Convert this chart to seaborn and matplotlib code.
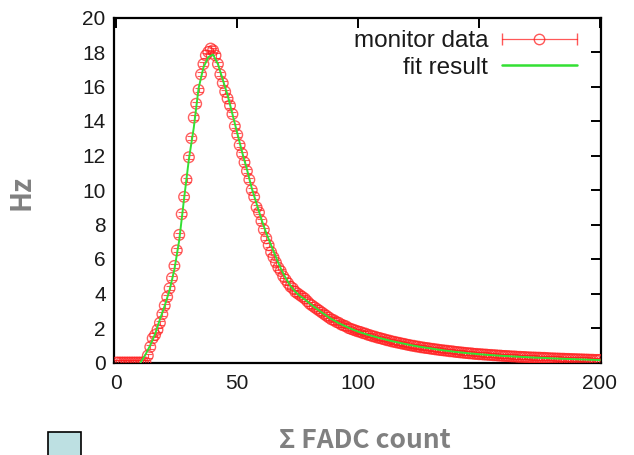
import numpy as np
import pandas as pd
import matplotlib
matplotlib.use("Agg")
import matplotlib.pyplot as plt
import seaborn as sns
from matplotlib.lines import Line2D
from matplotlib.legend_handler import HandlerLine2D, HandlerTuple
from matplotlib.patches import Rectangle

# ---- data ----
x_data = list(range(0, 201))
y_data = [
    0, 0, 0, 0, 0, 0, 0, 0, 0, 0,                                  # 0-9
    0, 0, 0, 0.4, 0.9, 1.4, 1.6, 1.9, 2.3, 2.8,                    # 10-19
    3.3, 3.8, 4.3, 4.9, 5.6, 6.5, 7.4, 8.6, 9.6, 10.6,             # 20-29
    11.9, 13.0, 14.2, 15.0, 15.8, 16.7, 17.3, 17.8, 18.0, 18.2,    # 30-39
    18.1, 17.8, 17.3, 16.7, 16.2, 15.7, 15.3, 14.9, 14.4, 13.7,    # 40-49
    13.2, 12.6, 12.1, 11.6, 11.1, 10.6, 10.0, 9.6, 9.0, 8.7,       # 50-59
    8.2, 7.7, 7.2, 6.8, 6.4, 6.1, 5.8, 5.5, 5.3, 5.0,              # 60-69
    4.8, 4.6, 4.4, 4.3, 4.1, 4.0, 3.9, 3.8, 3.7, 3.55,             # 70-79
    3.4, 3.3, 3.2, 3.1, 3.0, 2.9, 2.8, 2.7, 2.6, 2.5,              # 80-89
    2.45, 2.35, 2.3, 2.2, 2.15, 2.1, 2.0, 1.95, 1.9, 1.85,         # 90-99
    1.80, 1.77, 1.70, 1.68, 1.61, 1.58, 1.52, 1.50, 1.44, 1.42,    # 100-109
    1.37, 1.34, 1.29, 1.27, 1.22, 1.20, 1.16, 1.14, 1.10, 1.08,    # 110-119
    1.04, 1.02, 0.98, 0.97, 0.93, 0.92, 0.88, 0.87, 0.84, 0.83,    # 120-129
    0.80, 0.79, 0.76, 0.75, 0.72, 0.71, 0.69, 0.68, 0.65, 0.65,    # 130-139
    0.62, 0.61, 0.59, 0.58, 0.56, 0.55, 0.53, 0.53, 0.50, 0.50,    # 140-149
    0.48, 0.48, 0.46, 0.46, 0.44, 0.44, 0.42, 0.42, 0.40, 0.40,    # 150-159
    0.38, 0.38, 0.37, 0.36, 0.35, 0.35, 0.33, 0.33, 0.32, 0.32,    # 160-169
    0.30, 0.30, 0.29, 0.29, 0.28, 0.28, 0.27, 0.27, 0.26, 0.25,    # 170-179
    0.24, 0.24, 0.23, 0.23, 0.22, 0.22, 0.21, 0.21, 0.20, 0.20,    # 180-189
    0.19, 0.19, 0.18, 0.18, 0.17, 0.17, 0.16, 0.16, 0.15, 0.15,    # 190-199
    0.15,                                                          # 200
]
y_err = [0.12] * len(x_data)

x_fit = list(range(10, 201, 2))
y_fit = [
    0.0, 0.45, 1.0, 1.65, 2.5, 3.3, 4.2, 5.4, 7.1, 9.5,            # 10-28
    11.8, 13.6, 15.9, 17.1, 17.7, 17.85, 17.3, 16.4, 15.5, 14.4,   # 30-48
    13.3, 12.2, 11.2, 10.1, 9.2, 8.3, 7.5, 6.8, 6.1, 5.45,         # 50-68
    4.9, 4.45, 4.1, 3.85, 3.65, 3.42, 3.2, 3.0, 2.8, 2.6,          # 70-88
    2.44, 2.28, 2.15, 2.02, 1.9, 1.79, 1.70, 1.61, 1.53, 1.45,     # 90-108
    1.38, 1.31, 1.24, 1.18, 1.12, 1.06, 1.00, 0.95, 0.90, 0.86,    # 110-128
    0.82, 0.77, 0.73, 0.69, 0.66, 0.62, 0.59, 0.56, 0.53, 0.51,    # 130-148
    0.48, 0.46, 0.44, 0.42, 0.40, 0.38, 0.37, 0.35, 0.34, 0.32,    # 150-168
    0.31, 0.29, 0.28, 0.27, 0.26, 0.24, 0.23, 0.22, 0.21, 0.20,    # 170-188
    0.19, 0.18, 0.17, 0.16, 0.15, 0.14,                            # 190-200
]

x_ticks = [0, 50, 100, 150, 200]
y_ticks = [0, 2, 4, 6, 8, 10, 12, 14, 16, 18, 20]
x_label = "Σ FADC count"
y_label = "Hz"
legend_labels = ["monitor data", "fit result"]

df_data = pd.DataFrame({"x": x_data, "y": y_data, "err": y_err})
df_fit = pd.DataFrame({"x": x_fit, "y": y_fit})

# ---- style ----
sns.set_theme(style="white")
plt.rcParams["font.family"] = ["Liberation Sans", "DejaVu Sans"]

RED = "#ff2020"
GREEN = "#33e033"

fig = plt.figure(figsize=(6.34, 4.55), dpi=100)
ax = fig.add_axes([114 / 634, 1 - 362.5 / 455, (601 - 114) / 634, (362.5 - 17.5) / 455])

ax.errorbar(df_data["x"], df_data["y"], yerr=df_data["err"], fmt="none",
            ecolor=RED, elinewidth=0.8, capsize=2.8, capthick=0.8, alpha=0.75, zorder=2)
sns.scatterplot(data=df_data, x="x", y="y", ax=ax, marker="o", s=58,
                facecolor="none", edgecolor=RED, linewidth=1.0, alpha=0.72, zorder=3,
                legend=False)
sns.lineplot(data=df_fit, x="x", y="y", ax=ax, color=GREEN, linewidth=1.4,
             zorder=4, legend=False)

ax.set_xlim(-1, 200.5)
ax.set_ylim(0, 20)
ax.set_xticks(x_ticks)
ax.set_yticks(y_ticks)
ax.set_xticklabels([str(t) for t in x_ticks])
ax.set_yticklabels([str(t) for t in y_ticks])
ax.tick_params(axis="both", direction="in", length=7, width=1.4, color="black",
               labelsize=15, labelcolor="#1a1a1a", top=True, right=True, pad=8)
ax.tick_params(axis="y", pad=6)
for s in ax.spines.values():
    s.set_visible(True)
    s.set_color("black")
    s.set_linewidth(1.6)
ax.set_xlabel("")
ax.set_ylabel("")

# axis titles
fig.text(365 / 634, 1 - 440 / 455, x_label, ha="center", va="center",
         fontsize=19, fontweight="bold", color="#808080",
         family=["Noto Sans CJK JP", "DejaVu Sans"])
fig.text(22 / 634, 1 - 192 / 455, y_label, ha="center", va="center",
         rotation=90, fontsize=20, fontweight="bold", color="#808080",
         family=["Noto Sans CJK JP", "DejaVu Sans"])

# decoration square at bottom-left
fig.patches.append(Rectangle((48 / 634, -0.02), 33 / 634, (455 - 432) / 455 + 0.02,
                             transform=fig.transFigure, facecolor="#bde0e2",
                             edgecolor="black", linewidth=1.2))

# legend (gnuplot style: text then key)
caps = Line2D([], [], color=RED, lw=0.9, marker="|", markersize=9, alpha=0.75)
circ = Line2D([], [], ls="none", marker="o", markersize=7.5, markerfacecolor="none",
              markeredgecolor=RED, markeredgewidth=1.0, alpha=0.75)
fitl = Line2D([], [], color=GREEN, lw=1.8)
leg = ax.legend([(caps, circ), fitl], legend_labels,
                handler_map={caps: HandlerLine2D(numpoints=2, marker_pad=0),
                             tuple: HandlerTuple(ndivide=1)},
                markerfirst=False, frameon=False, fontsize=17.5,
                handlelength=3.1, handletextpad=0.55, labelspacing=0.2,
                borderpad=0, borderaxespad=0,
                loc="upper right", bbox_to_anchor=(577 / 634, 1 - 30 / 455),
                bbox_transform=fig.transFigure)
for t in leg.get_texts():
    t.set_color("#1a1a1a")

fig.savefig("out.png", dpi=100)
